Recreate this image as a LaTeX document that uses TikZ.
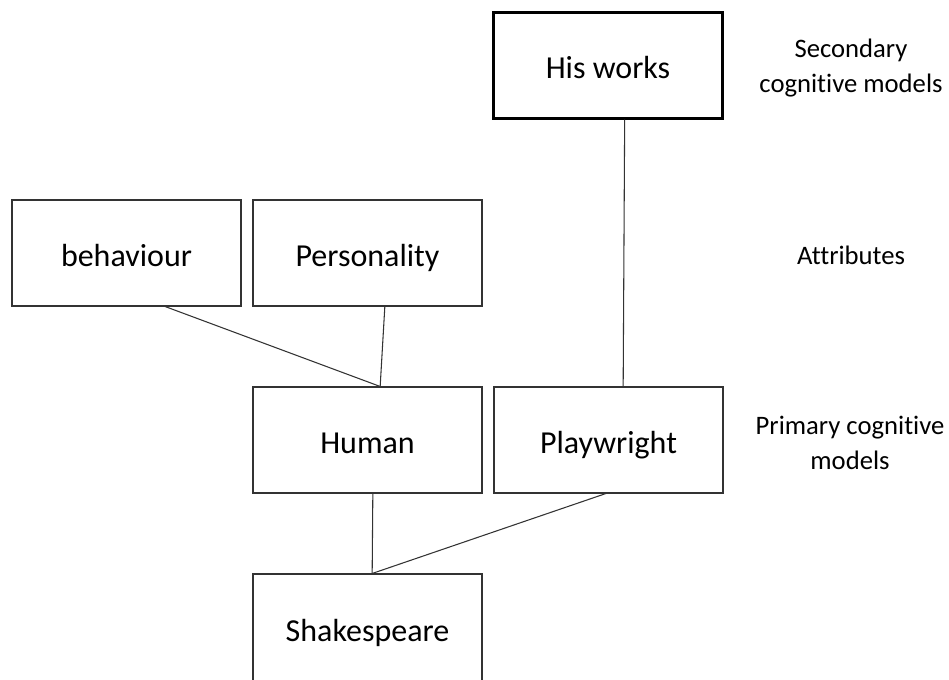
\documentclass[tikz,border=0pt]{standalone}
\usepackage{fontspec}
\setmainfont{Carlito}[Ligatures=NoCommon]
\usepackage{xcolor}
\usepackage{tikz}
\usetikzlibrary{positioning}

\begin{document}
\begin{tikzpicture}[
  x=0.75pt, y=-0.75pt,
  every node/.style={font=\fontsize{24}{28}\selectfont},
  model/.style={rectangle, draw=black!80, line width=0.8pt, align=center,
    text height=24pt, text depth=4pt,
    minimum width=171.75pt, minimum height=79.5pt, inner sep=0pt},
  topmodel/.style={model, draw=black, line width=1.6pt},
  level/.style={align=center, font=\fontsize{20}{26}\selectfont},
  link/.style={draw=black!80, line width=0.8pt}
]
\useasboundingbox (0,0) rectangle (949,679);
% boxes
\node[topmodel] (works) at (608,65.5) {His works};
\node[model] (beh) at (126.5,253) {behaviour};
\node[model] (pers) at (367.5,253) {Personality};
\node[model] (hum) at (367.5,440) {Human};
\node[model] (play) at (608.5,440) {Playwright};
\node[model, minimum height=81pt] (shak) at (367.5,628) {Shakespeare};
% levels
\node[level] (sec) at (851,68) {Secondary\\cognitive models};
\node[level] (attr) at (851,255) {Attributes};
\node[level] (prim) at (850,443) {Primary cognitive\\models};

\draw[link] ([xshift=29pt]beh.south) -- ([xshift=9.5pt]hum.north);
\draw[link] ([xshift=13pt]pers.south) -- ([xshift=9.5pt]hum.north);
\draw[link] ([xshift=12.5pt]works.south) -- ([xshift=11pt]play.north);
\draw[link] ([xshift=4pt]hum.south) -- ([xshift=3.5pt]shak.north);
\draw[link] ([xshift=-2pt]play.south) -- ([xshift=3.5pt]shak.north);
\end{tikzpicture}
\end{document}
